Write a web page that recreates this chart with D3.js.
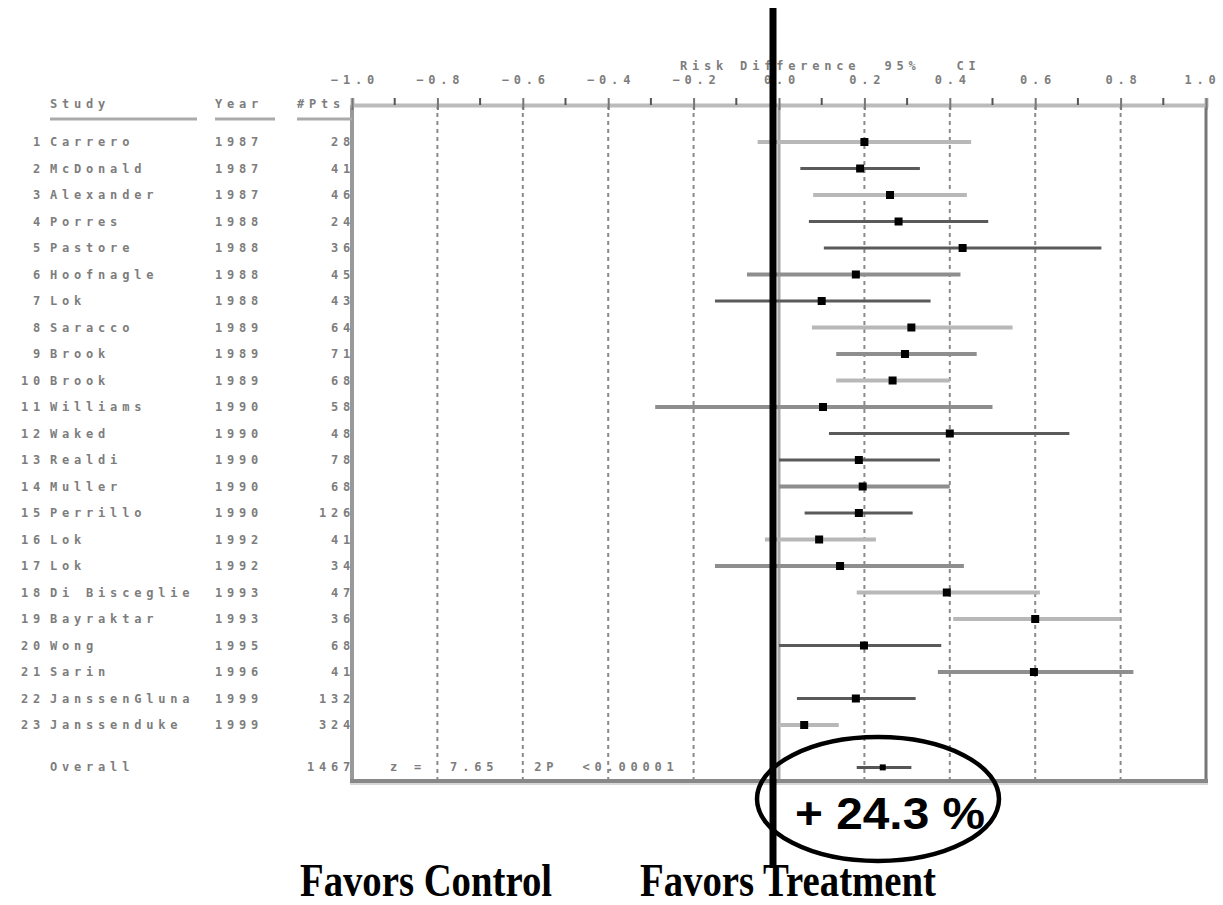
<!DOCTYPE html>
<html>
<head>
<meta charset="utf-8">
<script src="https://cdn.jsdelivr.net/npm/d3@7"></script>
<style>
  body { margin: 0; background: #fff; }
  .px { font-family: "DejaVu Sans Mono", monospace; font-size: 12px; font-weight: bold; letter-spacing: 4.8px; fill: #7d7d7d; }
</style>
</head>
<body>
<div id="chart"></div>
<script>
// study table
const studyNames = ["Carrero", "McDonald", "Alexander", "Porres", "Pastore", "Hoofnagle", "Lok",
    "Saracco", "Brook", "Brook", "Williams", "Waked", "Realdi", "Muller", "Perrillo", "Lok", "Lok",
    "Di Bisceglie", "Bayraktar", "Wong", "Sarin", "JanssenGluna", "Janssenduke"];
const studyYears = [1987, 1987, 1987, 1988, 1988, 1988, 1988, 1989, 1989, 1989, 1990, 1990, 1990,
    1990, 1990, 1992, 1992, 1993, 1993, 1995, 1996, 1999, 1999];
const studyN = [28, 41, 46, 24, 36, 45, 43, 64, 71, 68, 58, 48, 78, 68, 126, 41, 34, 47, 36, 68, 41, 132, 324];

// risk difference and 95% CI per study
const riskDiff = [0.20, 0.19, 0.26, 0.28, 0.43, 0.18, 0.10, 0.31, 0.295, 0.266, 0.103, 0.40, 0.187,
    0.196, 0.187, 0.094, 0.143, 0.393, 0.60, 0.199, 0.597, 0.18, 0.059];
const ciLow = [-0.05, 0.05, 0.08, 0.07, 0.105, -0.075, -0.15, 0.077, 0.134, 0.134, -0.29, 0.117, 0.0,
    0.0, 0.06, -0.033, -0.15, 0.182, 0.408, 0.0, 0.372, 0.042, 0.0];
const ciHigh = [0.45, 0.33, 0.44, 0.49, 0.755, 0.425, 0.355, 0.547, 0.463, 0.40, 0.50, 0.68, 0.377,
    0.40, 0.313, 0.227, 0.433, 0.611, 0.80, 0.38, 0.83, 0.32, 0.14];
const lineShade = ["light", "dark", "light", "dark", "dark", "mid", "dark", "light", "mid", "light", "mid",
    "dark", "dark", "mid", "dark", "light", "mid", "light", "light", "dark", "mid", "dark", "light"];

// pooled result
const overallN = 1467;
const overallDiff = 0.243;
const overallCI = [0.182, 0.31];
const overallStats = "z =  7.65   2P  <0.00001";

const axisTicks = [-1.0, -0.8, -0.6, -0.4, -0.2, 0.0, 0.2, 0.4, 0.6, 0.8, 1.0];
const minorTicks = [-0.9, -0.7, -0.5, -0.3, -0.1, 0.1, 0.3, 0.5, 0.7, 0.9];
const gridTicks = [-0.8, -0.6, -0.4, -0.2, 0.2, 0.4, 0.6, 0.8];

const width = 1223, height = 905;
const shadeColor = {dark: "#5a5a5a", mid: "#8e8e8e", light: "#b8b8b8"};

const svg = d3.select("#chart").append("svg")
    .attr("width", width)
    .attr("height", height);

const x = d3.scaleLinear().domain([-1, 1]).range([352, 1206]);
const y = d3.scaleLinear().domain([0, 22]).range([142, 725]);
const yOverall = y(23.6);
const plotTop = 105, plotBottom = 781;

const rows = studyNames.map((name, i) => ({
    idx: i + 1, name, year: studyYears[i], n: studyN[i],
    rd: riskDiff[i], lo: ciLow[i], hi: ciHigh[i], shade: lineShade[i]
}));

// gridlines
svg.append("g").selectAll("line")
    .data(gridTicks)
    .join("line")
    .attr("x1", d => x(d)).attr("x2", d => x(d))
    .attr("y1", plotTop).attr("y2", plotBottom)
    .attr("stroke", "#8a8a8a")
    .attr("stroke-width", 2)
    .attr("stroke-dasharray", "4,4");

// zero line
svg.append("line")
    .attr("x1", x(0)).attr("x2", x(0))
    .attr("y1", plotTop).attr("y2", plotBottom)
    .attr("stroke", "#a8a8a8").attr("stroke-width", 3);

// frame
svg.append("line").attr("x1", 352).attr("x2", 352).attr("y1", plotTop).attr("y2", plotBottom + 2)
    .attr("stroke", "#999").attr("stroke-width", 4);
svg.append("line").attr("x1", x(1)).attr("x2", x(1)).attr("y1", plotTop).attr("y2", plotBottom)
    .attr("stroke", "#777").attr("stroke-width", 3);
svg.append("line").attr("x1", 350).attr("x2", x(1) + 2).attr("y1", plotBottom).attr("y2", plotBottom)
    .attr("stroke", "#888").attr("stroke-width", 4);
svg.append("line").attr("x1", 350).attr("x2", x(1) + 2).attr("y1", plotBottom + 3).attr("y2", plotBottom + 3)
    .attr("stroke", "#d8d8d8").attr("stroke-width", 2);

// top axis
const topAxis = svg.append("g")
    .attr("transform", `translate(0,${plotTop})`)
    .call(d3.axisTop(x).tickValues(axisTicks).tickFormat(d3.format(".1f")).tickSize(7).tickPadding(14));
topAxis.select(".domain").attr("stroke", "#bbb").attr("stroke-width", 4);
topAxis.selectAll(".tick line").attr("stroke", "#777").attr("stroke-width", 2).attr("y2", -7).attr("y1", 5);
topAxis.selectAll(".tick text").attr("class", "px").attr("fill", null)
    .attr("dx", d => d === 1 ? "-4px" : "2.4px");

svg.append("g").selectAll("line")
    .data(minorTicks)
    .join("line")
    .attr("x1", d => x(d)).attr("x2", d => x(d))
    .attr("y1", plotTop - 7).attr("y2", plotTop)
    .attr("stroke", "#555").attr("stroke-width", 2);

svg.append("text").attr("class", "px")
    .attr("x", 680).attr("y", 66)
    .attr("dominant-baseline", "central")
    .style("white-space", "pre")
    .text("Risk Difference  95%   CI");

// table header
const headers = [
    {t: "Study", x: 50, ux1: 50, ux2: 197},
    {t: "Year", x: 215, ux1: 215, ux2: 275},
    {t: "#Pts", x: 297, ux1: 297, ux2: 352}
];
headers.forEach(h => {
    svg.append("text").attr("class", "px")
        .attr("x", h.x).attr("y", 104).attr("dominant-baseline", "central")
        .text(h.t);
    svg.append("line").attr("x1", h.ux1).attr("x2", h.ux2).attr("y1", 119).attr("y2", 119)
        .attr("stroke", "#aaa").attr("stroke-width", 3);
});

// table rows
const table = svg.append("g").selectAll("g")
    .data(rows)
    .join("g")
    .attr("transform", d => `translate(0,${y(d.idx - 1)})`);
table.append("text").attr("class", "px").attr("x", 45).attr("text-anchor", "end")
    .attr("dominant-baseline", "central").text(d => d.idx);
table.append("text").attr("class", "px").attr("x", 50)
    .attr("dominant-baseline", "central").style("white-space", "pre").text(d => d.name);
table.append("text").attr("class", "px").attr("x", 215)
    .attr("dominant-baseline", "central").text(d => d.year);
table.append("text").attr("class", "px").attr("x", 355).attr("text-anchor", "end")
    .attr("dominant-baseline", "central").text(d => d.n);

svg.append("text").attr("class", "px").attr("x", 50).attr("y", yOverall)
    .attr("dominant-baseline", "central").text("Overall");
svg.append("text").attr("class", "px").attr("x", 355).attr("y", yOverall).attr("text-anchor", "end")
    .attr("dominant-baseline", "central").text(overallN);
svg.append("text").attr("class", "px").attr("x", 390).attr("y", yOverall)
    .attr("dominant-baseline", "central").style("white-space", "pre").text(overallStats);

// CI lines and markers
const marks = svg.append("g");
marks.selectAll("line.ci")
    .data(rows)
    .join("line")
    .attr("class", "ci")
    .attr("x1", d => x(d.lo)).attr("x2", d => x(d.hi))
    .attr("y1", d => y(d.idx - 1)).attr("y2", d => y(d.idx - 1))
    .attr("stroke", d => shadeColor[d.shade])
    .attr("stroke-width", d => d.shade === "dark" ? 3 : 4);
marks.selectAll("rect.pt")
    .data(rows)
    .join("rect")
    .attr("class", "pt")
    .attr("x", d => x(d.rd) - 4).attr("y", d => y(d.idx - 1) - 4)
    .attr("width", 8).attr("height", 8)
    .attr("fill", "#000");

marks.append("line")
    .attr("x1", x(overallCI[0])).attr("x2", x(overallCI[1]))
    .attr("y1", yOverall).attr("y2", yOverall)
    .attr("stroke", "#555").attr("stroke-width", 3);
marks.append("rect")
    .attr("x", x(overallDiff) - 3).attr("y", yOverall - 3)
    .attr("width", 6).attr("height", 6).attr("fill", "#000");

// annotations
svg.append("line")
    .attr("x1", 773).attr("x2", 773).attr("y1", 8).attr("y2", 868)
    .attr("stroke", "#000").attr("stroke-width", 7);

svg.append("ellipse")
    .attr("cx", 878).attr("cy", 799).attr("rx", 121).attr("ry", 62)
    .attr("fill", "none").attr("stroke", "#000").attr("stroke-width", 4.5);

svg.append("text")
    .attr("x", 795).attr("y", 829)
    .attr("font-family", "'Liberation Sans', Arial, sans-serif")
    .attr("font-weight", "bold").attr("font-size", 44)
    .attr("textLength", 190).attr("lengthAdjust", "spacingAndGlyphs")
    .text("+ 24.3 %");

[["Favors Control", 300, 252], ["Favors Treatment", 640, 296]].forEach(([t, tx, tw]) => {
    svg.append("text")
        .attr("x", tx).attr("y", 896)
        .attr("font-family", "'Liberation Serif', 'Times New Roman', serif")
        .attr("font-weight", "bold").attr("font-size", 46)
        .attr("textLength", tw).attr("lengthAdjust", "spacingAndGlyphs")
        .text(t);
});
</script>
</body>
</html>
